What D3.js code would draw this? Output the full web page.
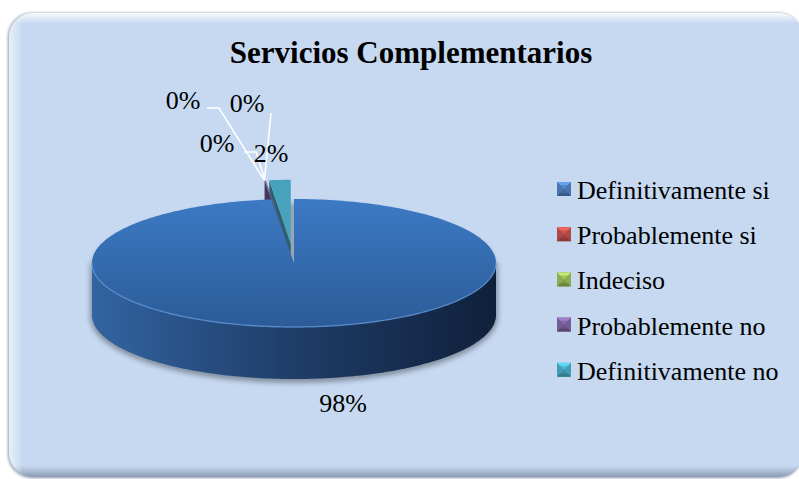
<!DOCTYPE html>
<html>
<head>
<meta charset="utf-8">
<script src="https://cdn.jsdelivr.net/npm/d3@7"></script>
<style>
  body { margin: 0; background: #fff; }
  svg { display: block; }
  text { font-family: "Liberation Serif", "Times New Roman", serif; }
</style>
</head>
<body>
<div id="chart"></div>
<script>
// Data
const categories = ['Definitivamente si', 'Probablemente si', 'Indeciso', 'Probablemente no', 'Definitivamente no'];
const values = [98.2, 0, 0, 0.1, 1.7];
const colors = ['#4f81bd', '#c0504d', '#9bbb59', '#8064a2', '#4bacc6'];
const title = 'Servicios Complementarios';

const width = 799, height = 479;

// pie geometry (3D, tilted)
const cx = 294, cy = 263, rx = 202, ry = 64, depth = 52;
const explodeAmount = 0.3;

const svg = d3.select('#chart').append('svg')
  .attr('width', width)
  .attr('height', height);
const defs = svg.append('defs');

function linGrad(id, x1, y1, x2, y2, stops) {
  const g = defs.append('linearGradient').attr('id', id)
    .attr('gradientUnits', 'userSpaceOnUse')
    .attr('x1', x1).attr('y1', y1).attr('x2', x2).attr('y2', y2);
  stops.forEach(s => g.append('stop').attr('offset', s[0]).attr('stop-color', s[1]).attr('stop-opacity', s[2] == null ? 1 : s[2]));
}

// panel background
const px0 = 9, py0 = 13, pw = 794, ph = 464;
linGrad('panelV', 0, py0, 0, py0 + ph, [[0, '#ffffff', 0.9], [0.022, '#ffffff', 0], [0.975, '#7d8ea6', 0], [1, '#6f7f96', 0.7]]);
linGrad('panelH', px0, 0, px0 + 14, 0, [[0, '#ffffff', 0.6], [1, '#ffffff', 0]]);
defs.append('filter').attr('id', 'soft').attr('x', '-10%').attr('y', '-10%').attr('width', '120%').attr('height', '120%')
  .append('feGaussianBlur').attr('stdDeviation', 1.5);

svg.append('rect')
  .attr('x', px0 - 1).attr('y', py0).attr('width', pw).attr('height', ph + 1)
  .attr('rx', 24).attr('fill', '#8e99a8').attr('filter', 'url(#soft)');
svg.append('rect')
  .attr('x', px0).attr('y', py0).attr('width', pw).attr('height', ph)
  .attr('rx', 24).attr('fill', '#c6d9f1');
svg.append('rect')
  .attr('x', px0).attr('y', py0).attr('width', pw).attr('height', ph)
  .attr('rx', 24).attr('fill', 'url(#panelV)');
svg.append('rect')
  .attr('x', px0).attr('y', py0).attr('width', pw).attr('height', ph)
  .attr('rx', 24).attr('fill', 'url(#panelH)');

// title
svg.append('text')
  .attr('x', 411).attr('y', 63)
  .attr('text-anchor', 'middle')
  .style('font-size', '31px')
  .style('font-weight', 'bold')
  .attr('fill', '#000')
  .text(title);

// scales that project the unit circle onto the tilted ellipse
const xs = d3.scaleLinear().domain([-1, 1]).range([cx - rx, cx + rx]);
const ys = d3.scaleLinear().domain([-1, 1]).range([cy + ry, cy - ry]);
const pt = (a, r, off, dz = 0) => [xs(r * Math.sin(a) + off[0]), ys(r * Math.cos(a) + off[1]) + dz];
const rimPts = (a0, a1, off, dz = 0) => {
  const n = Math.max(2, Math.ceil((a1 - a0) / 0.02));
  return d3.range(n + 1).map(k => pt(a0 + (a1 - a0) * k / n, 1, off, dz));
};
const line = d3.line();

const total = d3.sum(values);
const arcs = d3.pie().sort(null).value(d => d)(values);
arcs.forEach((s, i) => {
  s.i = i;
  s.mid = (s.startAngle + s.endAngle) / 2;
  const e = i === 0 ? 0 : explodeAmount;
  s.off = [e * Math.sin(s.mid), e * Math.cos(s.mid)];
});

// gradients for the big slice
linGrad('topBlue', 0, cy - ry, 0, cy + ry, [[0, '#3c7ac4'], [1, '#2c5b98']]);
linGrad('sideBlue', cx - rx, 0, cx + rx, 0, [[0, '#3264a1'], [0.5, '#1f3d68'], [1, '#0f203a']]);

// shadow below the pie
defs.append('filter').attr('id', 'pieShadow').attr('x', '-20%').attr('y', '-20%').attr('width', '140%').attr('height', '140%')
  .append('feGaussianBlur').attr('stdDeviation', 2.5);
const shadow = svg.append('g').attr('filter', 'url(#pieShadow)').attr('fill', '#6e7887').attr('opacity', 0.75);
shadow.append('ellipse').attr('cx', cx).attr('cy', cy + depth + 2).attr('rx', rx + 2).attr('ry', ry + 2);
shadow.append('rect').attr('x', cx - rx - 2).attr('y', cy).attr('width', 2 * rx + 4).attr('height', depth + 2);
shadow.append('ellipse').attr('cx', cx).attr('cy', cy + 4).attr('rx', rx).attr('ry', ry).attr('fill', '#8a94a3');

const pieG = svg.append('g');

function drawSlice(s) {
  const a0 = s.startAngle, a1 = s.endAngle, off = s.off;
  if (a1 - a0 <= 0) return;
  const base = d3.color(colors[s.i]);
  const big = s.i === 0;
  const topFill = big ? 'url(#topBlue)' : base.darker(0.15).formatHex();
  const sideFill = big ? 'url(#sideBlue)' : base.darker(1.6).formatHex();
  const apex = pt(0, 0, off), apexLow = pt(0, 0, off, depth);

  // radial faces that turn toward the viewer
  if (Math.sin(a0) < -1e-6) {
    pieG.append('path').attr('fill', sideFill)
      .attr('d', line([apex, pt(a0, 1, off), pt(a0, 1, off, depth), apexLow]) + 'Z');
  }
  if (Math.sin(a1) > 1e-6) {
    pieG.append('path').attr('fill', sideFill)
      .attr('d', line([apex, pt(a1, 1, off), pt(a1, 1, off, depth), apexLow]) + 'Z');
  }
  // outer wall (front half only)
  const lo = Math.max(a0, Math.PI / 2), hi = Math.min(a1, 3 * Math.PI / 2);
  if (lo < hi) {
    pieG.append('path').attr('fill', sideFill)
      .attr('d', line([...rimPts(lo, hi, off), ...rimPts(lo, hi, off, depth).reverse()]) + 'Z');
  }
  // top face
  pieG.append('path').attr('fill', topFill)
    .attr('d', line([apex, ...rimPts(a0, a1, off)]) + 'Z');
  if (big && lo < hi) {
    pieG.append('path').attr('fill', 'none')
      .attr('stroke', '#5b92d4').attr('stroke-width', 1.4).attr('opacity', 0.8)
      .attr('d', line(rimPts(lo, hi, off)));
  }
}

// back (exploded) slices first, then the big one
arcs.filter(s => s.i > 0)
  .sort((a, b) => Math.cos(b.mid) - Math.cos(a.mid))
  .forEach(drawSlice);
drawSlice(arcs[0]);

// data labels with leader lines
const labelPos = [[343, 412], [183, 109], [247, 112], [217, 152], [271, 162]];
const leaderBends = [null, [[207, 108], [219, 108]], [[271, 113]], [[244, 152], [256, 152]], null];
const fmt = d3.format('.0%');

const labG = svg.append('g');
arcs.forEach((s, i) => {
  if (leaderBends[i]) {
    labG.append('path')
      .attr('fill', 'none').attr('stroke', '#ffffff').attr('stroke-width', 1.5)
      .attr('d', line([...leaderBends[i], pt(s.mid, 1, s.off)]));
  }
});
labG.selectAll('text.lbl')
  .data(arcs)
  .enter()
  .append('text')
  .attr('class', 'lbl')
  .attr('x', (d, i) => labelPos[i][0])
  .attr('y', (d, i) => labelPos[i][1])
  .attr('text-anchor', 'middle')
  .style('font-size', '26px')
  .attr('fill', '#000')
  .text(d => fmt(d.data / total));

// legend
const legX = 557, legY = 199, legStep = 45.2, sq = 14;
const leg = svg.append('g').selectAll('g')
  .data(categories)
  .enter()
  .append('g')
  .attr('transform', (d, i) => `translate(${legX},${legY + i * legStep})`);

leg.each(function(d, i) {
  const g = d3.select(this);
  const c = d3.color(colors[i]).darker(0.25);
  const y0 = -17;
  g.append('rect').attr('x', 0).attr('y', y0).attr('width', sq).attr('height', sq).attr('fill', c.formatHex());
  g.append('path').attr('fill', c.brighter(0.9).formatHex())
    .attr('d', `M0,${y0}L${sq},${y0}L${sq / 2},${y0 + sq / 2}Z`);
  g.append('path').attr('fill', c.darker(0.7).formatHex())
    .attr('d', `M0,${y0 + sq}L${sq},${y0 + sq}L${sq / 2},${y0 + sq / 2}Z`);
  g.append('rect').attr('x', 3).attr('y', y0 + 3).attr('width', sq - 6).attr('height', sq - 6)
    .attr('fill', c.formatHex()).attr('opacity', 0.55);
  g.append('text')
    .attr('x', 20).attr('y', 0)
    .style('font-size', '26px')
    .attr('fill', '#000')
    .text(d);
});
</script>
</body>
</html>
